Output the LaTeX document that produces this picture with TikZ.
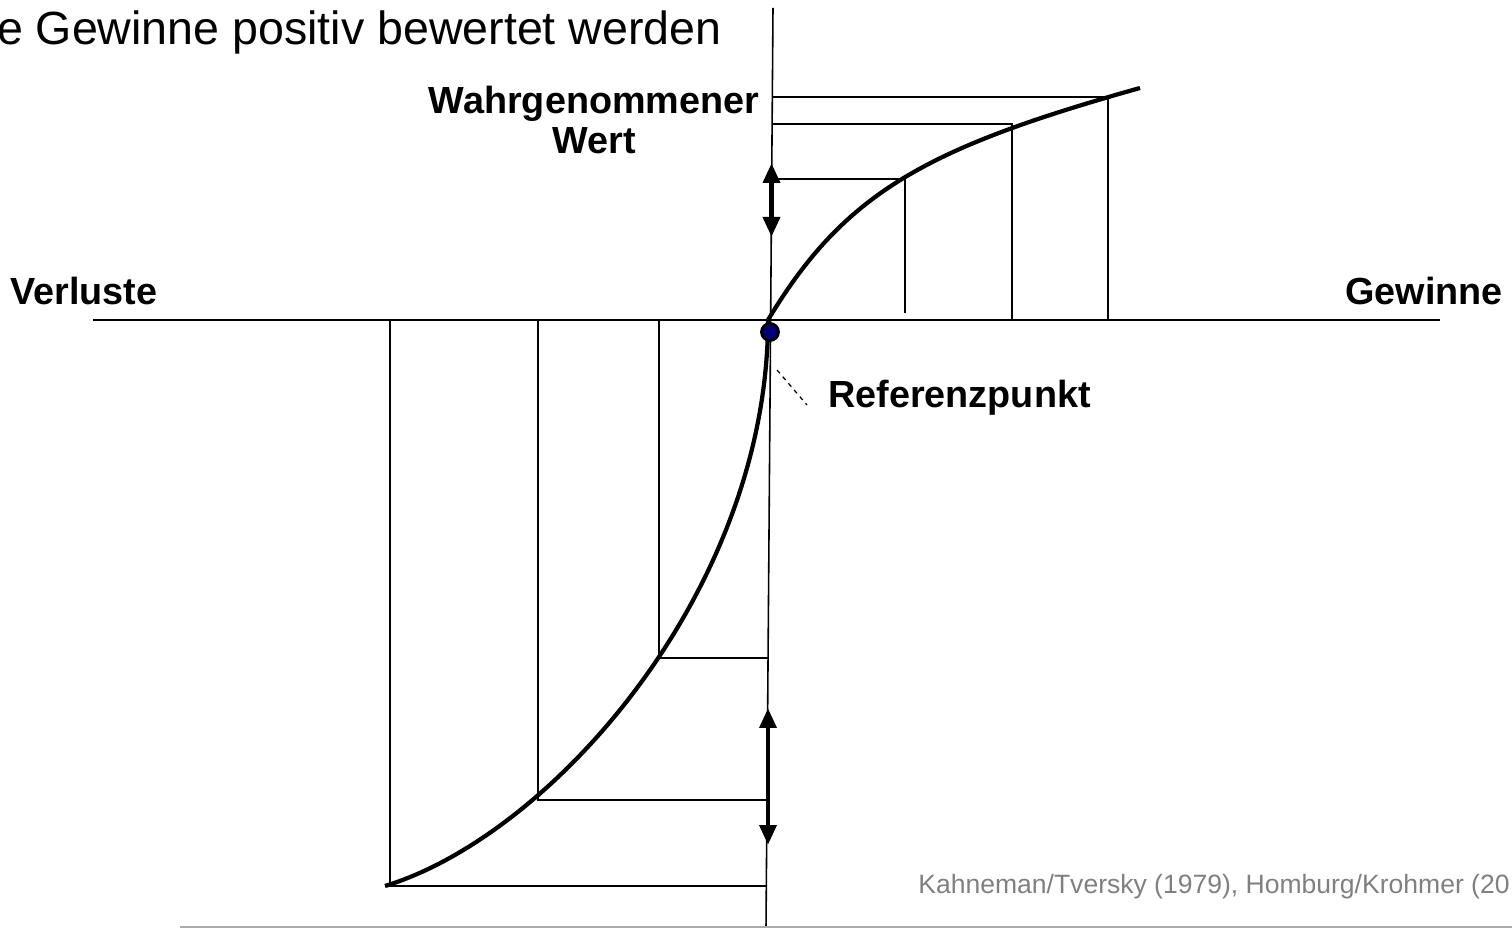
\documentclass[tikz,border=0pt]{standalone}
\usepackage{fontspec}
\setmainfont{Liberation Sans}
\usetikzlibrary{arrows.meta}
\definecolor{dotblue}{RGB}{0,0,120}
\definecolor{citegray}{RGB}{128,128,128}
\definecolor{linegray}{RGB}{170,170,170}
\begin{document}
\begin{tikzpicture}[x=0.02cm,y=-0.02cm,
  guide/.style={line width=1.1pt},
  curve/.style={line width=2.4pt, line join=round},
  axisline/.style={line width=1.4pt},
  vaxis/.style={line width=0.9pt},
  dblarrow/.style={line width=2.8pt,{Triangle[length=0.4cm,width=0.33cm]}-{Triangle[length=0.4cm,width=0.33cm]}},
  lbl/.style={font=\fontsize{21.5pt}{22.7pt}\selectfont\bfseries, inner sep=0pt},
  title/.style={font=\fontsize{26.5pt}{30pt}\selectfont, inner sep=0pt},
  cite/.style={font=\fontsize{15.1pt}{18pt}\selectfont, text=citegray, inner sep=0pt}]
\useasboundingbox (0,0) rectangle (1512,928);

% axes
\coordinate (vtop) at (773,8);
\coordinate (vbot) at (766,928);
\coordinate (hl) at (93,320);
\coordinate (hr) at (1440,320);
\coordinate (O) at (768,320);
\draw[vaxis] (vtop) -- (vbot);
\draw[axisline] (hl) -- (hr);

% positive side guides
\coordinate (P1) at (905,179);
\coordinate (P2) at (1012,124);
\coordinate (P3) at (1108,97);
\coordinate (A1) at (771.7,179);
\coordinate (A2) at (772.1,124);
\coordinate (A3) at (772.3,97);
\coordinate (B1) at (905,313);
\coordinate (B2) at (1012,320);
\coordinate (B3) at (1108,320);
\draw[guide] (A1) -- (P1) -- (B1);
\draw[guide] (A2) -- (P2) -- (B2);
\draw[guide] (A3) -- (P3) -- (B3);

% negative side guides
\coordinate (N1) at (659,658);
\coordinate (N2) at (538,800);
\coordinate (N3) at (390,886);
\coordinate (C1) at (768,658);
\coordinate (C2) at (767,800);
\coordinate (C3) at (766.3,886);
\coordinate (D1) at (659,320);
\coordinate (D2) at (538,320);
\coordinate (D3) at (390,320);
\draw[guide] (C1) -- (N1) -- (D1);
\draw[guide] (C2) -- (N2) -- (D2);
\draw[guide] (C3) -- (N3) -- (D3);

% value function
\coordinate (Pend) at (1140,88);
\coordinate (Nend) at (385,886);
\draw[curve] (O) .. controls (845,191.5) and (928,147.6) .. (Pend);
\draw[curve] (O) .. controls (768,590) and (552,835) .. (Nend);

% double arrows
\coordinate (u1) at (771.5,163);
\coordinate (u2) at (771.5,237);
\coordinate (l1) at (768,708);
\coordinate (l2) at (768,845);
\draw[dblarrow] (u1) -- (u2);
\draw[dblarrow] (l1) -- (l2);

% reference point
\node[circle, fill=dotblue, draw=black, line width=1.6pt, minimum size=0.34cm, inner sep=0pt] (dot) at (770,332) {};
\coordinate (d1) at (777,370);
\coordinate (d2) at (807,405);
\draw[line width=0.7pt, dash pattern=on 2.5pt off 2.5pt] (d1) -- (d2);

% labels
\node[title, anchor=base east] (ttl) at (722,45) {e Gewinne positiv bewertet werden};
\node[lbl, align=center, anchor=north] (wert) at (594,86) {Wahrgenommener\\Wert};
\node[lbl, anchor=base west] (verl) at (10,305) {Verluste};
\node[lbl, anchor=base east] (gew) at (1503,305) {Gewinne};
\node[lbl, anchor=base west] (ref) at (828,408) {Referenzpunkt};
\node[cite, anchor=base west] (src) at (918,894) {Kahneman/Tversky (1979), Homburg/Krohmer (20};

% bottom rule
\coordinate (g1) at (180,927);
\coordinate (g2) at (1512,927);
\draw[linegray, line width=1.2pt] (g1) -- (g2);
\end{tikzpicture}
\end{document}
